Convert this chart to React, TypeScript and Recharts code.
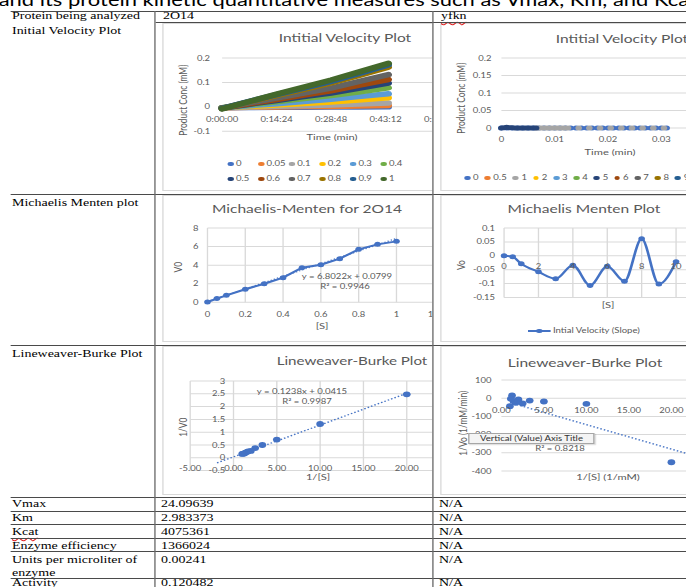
import React from 'react';
import { ComposedChart, Line, Scatter, XAxis, YAxis, CartesianGrid } from 'recharts';

const S = 1.33;
const dx = (v: number) => v / S;
const FONT = 'Lato, "Noto Sans", sans-serif';
const SERIF = '"Liberation Serif", "Times New Roman", serif';
const INK = '#595959';
const GRID = '#d9d9d9';
const BLUE = '#4472C4';
const TICK = 7.1, AXT = 8.4, TTL = 11.7, LEG = 7.2, TRD = 7.2;

// ===== 2O14 initial velocity (x in days, y product conc mM) =====
const ivTime = [0, 0.005, 0.01, 0.015, 0.02, 0.025, 0.0305];
const ivLabels = ['0', '0.05', '0.1', '0.2', '0.3', '0.4', '0.5', '0.6', '0.7', '0.8', '0.9', '1'];
const ivColors = ['#4472C4', '#ED7D31', '#A5A5A5', '#FFC000', '#5B9BD5', '#70AD47', '#264478', '#9E480E', '#636363', '#997300', '#255E91', '#43682B'];
const iv_0 = [-0.004, -0.003, -0.002, -0.002, -0.001, -0.001, 0.0];
const iv_005 = [-0.004, -0.002, -0.001, 0.001, 0.002, 0.004, 0.006];
const iv_01 = [-0.004, -0.001, 0.002, 0.005, 0.008, 0.012, 0.016];
const iv_02 = [-0.004, 0.002, 0.008, 0.014, 0.02, 0.028, 0.037];
const iv_03 = [-0.004, 0.005, 0.013, 0.022, 0.031, 0.042, 0.054];
const iv_04 = [-0.004, 0.009, 0.021, 0.034, 0.046, 0.061, 0.078];
const iv_05 = [-0.005, 0.011, 0.026, 0.042, 0.057, 0.076, 0.097];
const iv_06 = [-0.005, 0.013, 0.03, 0.048, 0.066, 0.088, 0.112];
const iv_07 = [-0.005, 0.016, 0.036, 0.056, 0.077, 0.103, 0.132];
const iv_08 = [-0.006, 0.021, 0.046, 0.072, 0.098, 0.128, 0.162];
const iv_09 = [-0.006, 0.023, 0.05, 0.077, 0.104, 0.136, 0.172];
const iv_1 = [-0.008, 0.022, 0.052, 0.081, 0.11, 0.142, 0.178];
const ivSeries = [iv_0, iv_005, iv_01, iv_02, iv_03, iv_04, iv_05, iv_06, iv_07, iv_08, iv_09, iv_1];

// ===== yfkn initial velocity =====
const yfLabels = ['0', '0.5', '1', '2', '3', '4', '5', '6', '7', '8', '9', '10'];
const yfColors = ['#4472C4', '#ED7D31', '#A5A5A5', '#FFC000', '#5B9BD5', '#70AD47', '#264478', '#9E480E', '#636363', '#997300', '#255E91', '#43682B'];
const yfT_0 = [0, 0.001, 0.002, 0.003, 0.004, 0.005, 0.006, 0.007, 0.008, 0.009, 0.01, 0.011, 0.012, 0.013, 0.014, 0.015, 0.016, 0.017, 0.018, 0.019, 0.02, 0.021, 0.022, 0.023, 0.024, 0.025, 0.026, 0.027, 0.028, 0.029, 0.03, 0.031];
const yfC_0 = [0, 0, 0, 0, 0, 0, 0, 0, 0, 0, 0, 0, 0, 0, 0, 0, 0, 0, 0, 0, 0, 0, 0, 0, 0, 0, 0, 0, 0, 0, 0, 0];
const yfT_1 = [0.0065, 0.007, 0.0075, 0.008, 0.0085, 0.009, 0.0095, 0.01, 0.0105, 0.011, 0.0115, 0.012, 0.0125, 0.0145, 0.0165, 0.0185, 0.0205, 0.0225, 0.0245, 0.0265, 0.0285, 0.0305];
const yfC_1 = [0, 0, 0, 0, 0, 0, 0, 0, 0, 0, 0, 0, 0, 0, 0, 0, 0, 0, 0, 0, 0, 0];
const yfT_5 = [0, 0.0005, 0.001, 0.0015, 0.002, 0.0025, 0.003, 0.0035, 0.004, 0.0045, 0.005, 0.0055, 0.006, 0.0065];
const yfC_5 = [0, 0.001, 0.002, 0.001, 0.001, 0, 0, 0, 0, 0, 0, 0, 0, 0];

// ===== 2O14 Michaelis-Menten =====
const mmS = [0, 0.05, 0.1, 0.2, 0.3, 0.4, 0.5, 0.6, 0.7, 0.8, 0.9, 1];
const mmV0 = [0.03, 0.4, 0.75, 1.4, 2.0, 2.65, 3.73, 4.05, 4.7, 5.7, 6.24, 6.56];
const mmTrendX = [0, 1];
const mmTrendY = [0.08, 6.88];

// ===== yfkn Michaelis-Menten =====
const yfS = [0, 0.5, 1, 2, 3, 4, 5, 6, 7, 8, 9, 10];
const yfV = [0, -0.004, -0.029, -0.058, -0.083, -0.034, -0.107, -0.038, -0.092, 0.061, -0.102, -0.022];

// ===== 2O14 Lineweaver-Burke =====
const lbInvS = [20, 10, 5, 3.33, 2.5, 2, 1.67, 1.43, 1.25, 1.11, 1];
const lbInvV = [2.48, 1.32, 0.71, 0.5, 0.38, 0.27, 0.25, 0.21, 0.17, 0.16, 0.15];
const lbTrendX = [-1.9, 20];
const lbTrendY = [-0.2, 2.52];

// ===== yfkn Lineweaver-Burke =====
const lb2InvS = [20, 10, 5, 3.33, 2.5, 2, 1.67, 1.43, 1.25, 1.11, 1];
const lb2InvV = [-352, -31, -18, -13, -29, -7, -25, -16, 15, -3, -44];
const lb2TrendX = [1, 22];
const lb2TrendY = [-24, -307];

// ===== table =====
const rowLabels = ['Vmax', 'Km', 'Kcat', 'Enzyme efficiency', 'Units per microliter of', 'Activity'];
const vals2O14 = ['24.09639', '2.983373', '4075361', '1366024', '0.00241', '0.120482'];
const valsYfkn = ['N/A', 'N/A', 'N/A', 'N/A', 'N/A', 'N/A'];

type Pt = { x: number; y: number };
const toPts = (xs: number[], ys: number[]): Pt[] => xs.map((x, i) => ({ x, y: ys[i] }));

const fmtTime = (v: number) => {
  const s = Math.round(v * 86400);
  const h = Math.floor(s / 3600);
  const m = Math.floor((s % 3600) / 60);
  const sec = s % 60;
  return `${h}:${String(m).padStart(2, '0')}:${String(sec).padStart(2, '0')}`;
};
const fmtNum = (v: number) => String(v);
const fmt2 = (v: number) => v.toFixed(2);

type Geom = { x0: number; x1: number; y0: number; y1: number };

function Plot(props: any) {
  const { g, xDomain, xTicks, yDomain, yTicks, xFmt, yFmt, xLabelY, yLabelRight, vGrid, children } = props;
  const YW = 30, MT = 6, MR = 6, XH = 22;
  const left = dx(g.x0) - YW;
  const top = g.y0 - MT;
  const width = dx(g.x1 - g.x0) + YW + MR;
  const height = g.y1 - g.y0 + MT + XH;
  const xOff = xLabelY - g.y1;
  const yOff = dx(yLabelRight - g.x0);
  return (
    <div style={{ position: 'absolute', left, top, width, height }}>
      <ComposedChart width={width} height={height} margin={{ top: MT, right: MR, bottom: 0, left: 0 }}>
        <CartesianGrid stroke={GRID} strokeWidth={1} vertical={!!vGrid} horizontal={true} />
        <XAxis
          type="number"
          dataKey="x"
          domain={xDomain}
          ticks={xTicks}
          interval={0}
          tickLine={false}
          axisLine={false}
          tickSize={0}
          tickMargin={0}
          height={XH}
          tick={(p: any) => (
            <text x={p.x} y={p.y + xOff} dy="0.36em" textAnchor="middle" fontFamily={FONT} fontSize={TICK} fill={INK}>
              {xFmt(p.payload.value)}
            </text>
          )}
        />
        <YAxis
          type="number"
          dataKey="y"
          domain={yDomain}
          ticks={yTicks}
          interval={0}
          tickLine={false}
          axisLine={false}
          tickSize={0}
          tickMargin={0}
          width={YW}
          tick={(p: any) => (
            <text x={p.x + yOff} y={p.y} dy="0.36em" textAnchor="end" fontFamily={FONT} fontSize={TICK} fill={INK}>
              {yFmt(p.payload.value)}
            </text>
          )}
        />
        {children}
      </ComposedChart>
    </div>
  );
}

function Txt(props: any) {
  const { x, y, size, children, anchor = 'middle', rotate = false, color = INK, family = FONT } = props;
  const base: React.CSSProperties = {
    position: 'absolute',
    fontFamily: family,
    fontSize: size,
    lineHeight: `${size}px`,
    color,
    whiteSpace: 'nowrap',
  };
  if (rotate) {
    return (
      <div style={{ ...base, left: dx(x) - 100, top: y - size / 2, width: 200, height: size, textAlign: 'center', transform: 'rotate(-90deg)' }}>
        {children}
      </div>
    );
  }
  if (anchor === 'start') {
    return <div style={{ ...base, left: dx(x), top: y - 0.55 * size }}>{children}</div>;
  }
  return <div style={{ ...base, left: dx(x) - 150, top: y - 0.55 * size, width: 300, textAlign: 'center' }}>{children}</div>;
}

function Clip(props: any) {
  const { x0, y0, x1, y1, children } = props;
  return (
    <div style={{ position: 'absolute', left: dx(x0), top: y0, width: dx(x1 - x0), height: y1 - y0, overflow: 'hidden' }}>
      <div style={{ position: 'absolute', left: -dx(x0), top: -y0, width: 0, height: 0 }}>{children}</div>
    </div>
  );
}

function Frame(props: any) {
  const { x, y0, y1 } = props;
  return (
    <div style={{ position: 'absolute', left: dx(x), top: y0, width: 700, height: y1 - y0, border: '1px solid #d9d9d9', boxSizing: 'border-box' }} />
  );
}

const dotShape = (r: number, color: string) => (p: any) => <circle cx={p.cx} cy={p.cy} r={r} fill={color} />;

function Dot(props: any) {
  const { x, y, color, d = 4.8 } = props;
  return <div style={{ position: 'absolute', left: dx(x) - d / 2, top: y - d / 2, width: d, height: d, borderRadius: '50%', background: color }} />;
}

function TableText(props: any) {
  const { x, top, children, squiggle } = props;
  return (
    <div
      style={{
        position: 'absolute',
        left: dx(x),
        top,
        fontFamily: SERIF,
        fontSize: 10.5,
        lineHeight: '12px',
        color: '#000',
        whiteSpace: 'nowrap',
        textDecoration: squiggle ? 'underline wavy #e02020' : 'none',
        textDecorationThickness: squiggle ? '0.8px' : undefined,
        textUnderlineOffset: squiggle ? '1.5px' : undefined,
      }}
    >
      {children}
    </div>
  );
}

const G1: Geom = { x0: 222, x1: 440, y0: 57.7, y1: 131 };
const G2: Geom = { x0: 502, x1: 715.2, y0: 57.7, y1: 127.7 };
const G3: Geom = { x0: 208, x1: 434.8, y0: 227.7, y1: 302 };
const G4: Geom = { x0: 504, x1: 710.4, y0: 228.3, y1: 297.7 };
const G5: Geom = { x0: 190, x1: 449.9, y0: 380.7, y1: 470.3 };
const G6: Geom = { x0: 502, x1: 714.5, y0: 380, y1: 471 };

const rowTops = [498, 512, 526, 540, 553.8, 577.4];
const hLines: [number, number][] = [[11, 10], [22, 155], [194, 10], [345, 10], [497, 10], [511, 10], [524, 10], [538, 10], [551, 10], [578, 10]];

export default function App() {
  return (
    <div style={{ position: 'absolute', left: 0, top: 0, width: 686, height: 587, overflow: 'hidden', background: '#fff' }}>
      <div style={{ position: 'absolute', left: 0, top: 0, width: 686 / S, height: 587, transform: `scaleX(${S})`, transformOrigin: '0 0' }}>
        {/* cut-off sentence at top */}
        <div style={{ position: 'absolute', left: -1, top: -8.4, fontFamily: FONT, fontSize: 16.5, lineHeight: '16.5px', color: '#000', whiteSpace: 'nowrap' }}>
          and its protein kinetic quantitative measures such as Vmax, Km, and Kcat
        </div>

        {/* ===== Chart 1: 2O14 initial velocity ===== */}
        <Clip x0={156} y0={23} x1={432} y1={193}>
          <Frame x={162} y0={23} y1={191} />
          <Txt x={345} y={38} size={TTL}>Intitial Velocity Plot</Txt>
          <Txt x={183} y={100} size={AXT} rotate>Product Conc (mM)</Txt>
          <Txt x={332} y={138} size={AXT}>Time (min)</Txt>
          <Plot g={G1} xDomain={[0, 0.04]} xTicks={[0, 0.01, 0.02, 0.03, 0.04]} yDomain={[-0.1, 0.2]} yTicks={[-0.1, 0, 0.1, 0.2]} xFmt={fmtTime} yFmt={fmtNum} xLabelY={119} yLabelRight={210} vGrid={false}>
            {ivSeries.map((vals, i) => (
              <Line key={ivLabels[i]} data={toPts(ivTime, vals)} dataKey="y" type="linear" stroke={ivColors[i]} strokeWidth={5.5} strokeLinecap="round" dot={false} isAnimationActive={false} />
            ))}
          </Plot>
          {ivLabels.map((lab, i) => {
            const cx = 230.5 + (i % 6) * 30.6;
            const cy = i < 6 ? 164 : 179;
            return (
              <React.Fragment key={lab}>
                <Dot x={cx} y={cy} color={ivColors[i]} />
                <Txt x={cx + 5.5} y={cy} size={LEG} anchor="start">{lab}</Txt>
              </React.Fragment>
            );
          })}
        </Clip>

        {/* ===== Chart 2: yfkn initial velocity ===== */}
        <Clip x0={434} y0={23} x1={686} y1={193}>
          <Frame x={440} y0={23} y1={191} />
          <Txt x={622} y={39} size={TTL}>Intitial Velocity Plot</Txt>
          <Txt x={462} y={98} size={AXT} rotate>Product Conc (mM)</Txt>
          <Txt x={610} y={153} size={AXT}>Time (min)</Txt>
          <Plot g={G2} xDomain={[0, 0.04]} xTicks={[0, 0.01, 0.02, 0.03, 0.04]} yDomain={[0, 0.2]} yTicks={[0, 0.05, 0.1, 0.15, 0.2]} xFmt={fmtNum} yFmt={fmtNum} xLabelY={139} yLabelRight={492} vGrid={false}>
            <Scatter data={toPts(yfT_0, yfC_0)} fill={yfColors[0]} shape={dotShape(2.5, yfColors[0])} isAnimationActive={false} />
            <Scatter data={toPts(yfT_1, yfC_1)} fill={yfColors[2]} shape={dotShape(2.5, yfColors[2])} isAnimationActive={false} />
            <Scatter data={toPts(yfT_5, yfC_5)} fill={yfColors[6]} shape={dotShape(2.5, yfColors[6])} isAnimationActive={false} />
          </Plot>
          <div style={{ position: 'absolute', left: dx(464), top: 173, height: 10, display: 'flex', alignItems: 'center', whiteSpace: 'nowrap', fontFamily: FONT, fontSize: LEG, lineHeight: '10px', color: INK }}>
            {yfLabels.map((lab, i) => (
              <span key={lab} style={{ display: 'inline-flex', alignItems: 'center', marginRight: 4.3 }}>
                <span style={{ display: 'inline-block', width: 4.8, height: 4.8, borderRadius: '50%', background: yfColors[i], marginRight: 2 }} />
                {lab}
              </span>
            ))}
          </div>
        </Clip>

        {/* ===== Chart 3: 2O14 Michaelis-Menten ===== */}
        <Clip x0={156} y0={195} x1={432} y1={344}>
          <Frame x={162} y0={195} y1={342} />
          <Txt x={307} y={209} size={TTL}>Michaelis-Menten for 2O14</Txt>
          <Txt x={178} y={267} size={AXT} rotate>V0</Txt>
          <Txt x={322} y={327} size={AXT}>[S]</Txt>
          <Plot g={G3} xDomain={[0, 1.2]} xTicks={[0, 0.2, 0.4, 0.6, 0.8, 1, 1.2]} yDomain={[0, 8]} yTicks={[0, 2, 4, 6, 8]} xFmt={fmtNum} yFmt={fmtNum} xLabelY={314} yLabelRight={199} vGrid={true}>
            <Line data={toPts(mmS, mmV0)} dataKey="y" type="linear" stroke={BLUE} strokeWidth={2} dot={{ r: 2.5, fill: BLUE, stroke: BLUE, strokeWidth: 0 }} isAnimationActive={false} />
            <Line data={toPts(mmTrendX, mmTrendY)} dataKey="y" type="linear" stroke={BLUE} strokeWidth={1.2} strokeDasharray="1 1.6" dot={false} isAnimationActive={false} />
          </Plot>
          <Txt x={347} y={277} size={TRD}>y = 6.8022x + 0.0799</Txt>
          <Txt x={345} y={287} size={TRD}>R² = 0.9946</Txt>
        </Clip>

        {/* ===== Chart 4: yfkn Michaelis-Menten ===== */}
        <Clip x0={434} y0={195} x1={686} y1={344}>
          <Frame x={440} y0={195} y1={342} />
          <Txt x={584} y={209} size={TTL}>Michaelis Menten Plot</Txt>
          <Txt x={462} y={265} size={AXT} rotate>Vo</Txt>
          <Txt x={608} y={306} size={AXT}>[S]</Txt>
          <Plot g={G4} xDomain={[0, 12]} xTicks={[0, 2, 4, 6, 8, 10, 12]} yDomain={[-0.15, 0.1]} yTicks={[-0.15, -0.1, -0.05, 0, 0.05, 0.1]} xFmt={fmtNum} yFmt={fmtNum} xLabelY={267} yLabelRight={495} vGrid={true}>
            <Line data={toPts(yfS, yfV)} dataKey="y" type="monotone" stroke={BLUE} strokeWidth={2} dot={{ r: 2.5, fill: BLUE, stroke: BLUE, strokeWidth: 0 }} isAnimationActive={false} />
          </Plot>
          <div style={{ position: 'absolute', left: dx(528), top: 330, width: dx(22), height: 2, background: BLUE }} />
          <Dot x={539} y={331} color={BLUE} />
          <Txt x={553} y={331} size={LEG} anchor="start">Intial Velocity (Slope)</Txt>
        </Clip>

        {/* ===== Chart 5: 2O14 Lineweaver-Burke ===== */}
        <Clip x0={156} y0={346} x1={432} y1={496}>
          <Frame x={162} y0={346} y1={495} />
          <Txt x={352} y={361} size={11.4}>Lineweaver-Burke Plot</Txt>
          <Txt x={184} y={427} size={AXT} rotate>1/V0</Txt>
          <Txt x={318} y={478} size={AXT}>1/[S]</Txt>
          <Plot g={G5} xDomain={[-5, 25]} xTicks={[-5, 0, 5, 10, 15, 20, 25]} yDomain={[-0.5, 3]} yTicks={[-0.5, 0, 0.5, 1, 1.5, 2, 2.5, 3]} xFmt={fmt2} yFmt={fmtNum} xLabelY={468} yLabelRight={225} vGrid={true}>
            <Line data={toPts(lbTrendX, lbTrendY)} dataKey="y" type="linear" stroke={BLUE} strokeWidth={1.3} strokeDasharray="1.2 1.6" dot={false} isAnimationActive={false} />
            <Scatter data={toPts(lbInvS, lbInvV)} fill={BLUE} shape={dotShape(2.9, BLUE)} isAnimationActive={false} />
          </Plot>
          <Txt x={302} y={392} size={TRD}>y = 0.1238x + 0.0415</Txt>
          <Txt x={307} y={402} size={TRD}>R² = 0.9987</Txt>
        </Clip>

        {/* ===== Chart 6: yfkn Lineweaver-Burke ===== */}
        <Clip x0={434} y0={346} x1={686} y1={496}>
          <Frame x={440} y0={346} y1={495} />
          <Txt x={585} y={363} size={TTL}>Lineweaver-Burke Plot</Txt>
          <Txt x={463} y={423} size={AXT} rotate>1/Vo (1/mM/min)</Txt>
          <Txt x={608} y={478} size={AXT}>1/[S] (1/mM)</Txt>
          <Plot g={G6} xDomain={[0, 25]} xTicks={[0, 5, 10, 15, 20, 25]} yDomain={[-400, 100]} yTicks={[-400, -300, -200, -100, 0, 100]} xFmt={fmt2} yFmt={fmtNum} xLabelY={410.7} yLabelRight={492} vGrid={false}>
            <Line data={toPts(lb2TrendX, lb2TrendY)} dataKey="y" type="linear" stroke={BLUE} strokeWidth={1.3} strokeDasharray="1.2 1.6" dot={false} isAnimationActive={false} />
            <Scatter data={toPts(lb2InvS, lb2InvV)} fill={BLUE} shape={dotShape(2.9, BLUE)} isAnimationActive={false} />
          </Plot>
          <Txt x={560} y={449} size={TRD}>R² = 0.8218</Txt>
          <div style={{ position: 'absolute', left: dx(468), top: 432.5, width: dx(127), height: 11.5, boxSizing: 'border-box', background: '#f4f4f4', border: '1px solid #a6a6a6', boxShadow: '1px 1px 1px rgba(0,0,0,0.15)', fontFamily: FONT, fontSize: 7.2, lineHeight: '9.5px', color: '#333', textAlign: 'center', whiteSpace: 'nowrap' }}>
            Vertical (Value) Axis Title
          </div>
        </Clip>

        {/* ===== table text ===== */}
        <TableText x={12} top={10.4}>Protein being analyzed</TableText>
        <TableText x={163} top={10.4}>2O14</TableText>
        <TableText x={441} top={10.4} squiggle>yfkn</TableText>
        <TableText x={12} top={25.4}>Initial Velocity Plot</TableText>
        <TableText x={12} top={197}>Michaelis Menten plot</TableText>
        <TableText x={12} top={347.7}>Lineweaver-Burke Plot</TableText>
        {rowLabels.map((lab, i) => (
          <React.Fragment key={lab}>
            <TableText x={12} top={rowTops[i]} squiggle={lab === 'Kcat'}>{lab}</TableText>
            <TableText x={161} top={rowTops[i]}>{vals2O14[i]}</TableText>
            <TableText x={439} top={rowTops[i]}>{valsYfkn[i]}</TableText>
          </React.Fragment>
        ))}
        <TableText x={12} top={567}>enzyme</TableText>

        {/* ===== table lines ===== */}
        {hLines.map(([y, x0]) => (
          <div key={y} style={{ position: 'absolute', left: dx(x0), top: y - 0.5, width: dx(686 - x0), height: 1, background: '#4a4a4a' }} />
        ))}
        <div style={{ position: 'absolute', left: dx(154), top: 11, width: dx(2), height: 576, background: '#6a6a6a' }} />
        <div style={{ position: 'absolute', left: dx(432), top: 11, width: dx(2), height: 576, background: '#6a6a6a' }} />
      </div>
    </div>
  );
}
